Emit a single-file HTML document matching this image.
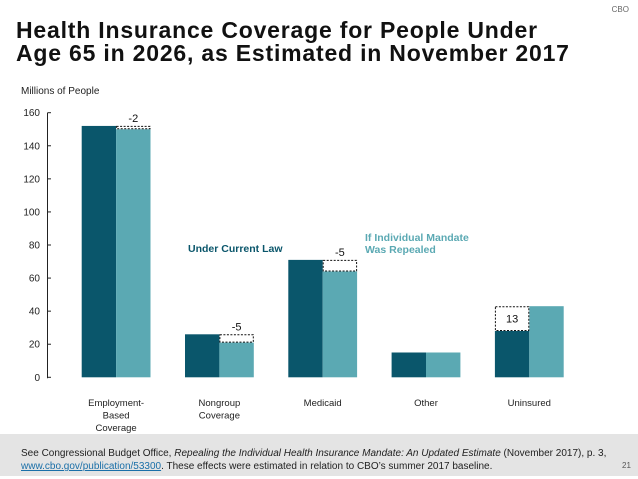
<!DOCTYPE html>
<html><head><meta charset="utf-8"><style>
body{margin:0;width:638px;height:479px;background:#fff;font-family:"Liberation Sans",sans-serif;position:relative;overflow:hidden}
.t{position:absolute;white-space:nowrap}
</style></head><body>
<div class="t" style="right:9px;top:5px;font-size:8px;color:#666">CBO</div>
<div class="t" style="left:16px;top:19px;font-size:23px;font-weight:bold;line-height:23px;color:#111;letter-spacing:0.8px">Health Insurance Coverage for People Under<br>Age 65 in 2026, as Estimated in November 2017</div>
<div class="t" style="left:21px;top:86px;font-size:10px;color:#222">Millions of People</div>
<svg id="chart" width="638" height="479" style="position:absolute;left:0;top:0"></svg>
<div style="position:absolute;left:0;top:434px;width:638px;height:42px;background:#e4e4e4"></div>
<div class="t" style="left:21px;top:447px;font-size:10px;line-height:13px;color:#222">See Congressional Budget Office, <i>Repealing the Individual Health Insurance Mandate: An Updated Estimate</i> (November 2017), p. 3,<br><span style="color:#1a6fa8;text-decoration:underline">www.cbo.gov/publication/53300</span>. These effects were estimated in relation to CBO’s summer 2017 baseline.</div>
<div class="t" style="left:622px;top:461px;font-size:8px;color:#555">21</div>
<script>
const categories=[["Employment-","Based","Coverage"],["Nongroup","Coverage"],["Medicaid"],["Other"],["Uninsured"]];
const currentLaw=[152,26,71,15,28];
const repealed=[150,21,64,15,43];
const changeLabels=["-2","-5","-5","","13"];
const yTicks=[0,20,40,60,80,100,120,140,160];
const svg=document.getElementById('chart');
const NS='http://www.w3.org/2000/svg';
const y0=377.3,yTop=112.7,yMax=160;
const y=v=>y0-(v/yMax)*(y0-yTop);
const gx=i=>81.7+i*103.3;
const bw=34.4;
function mk(t,a){const e=document.createElementNS(NS,t);for(const k in a)e.setAttribute(k,a[k]);svg.appendChild(e);return e;}
let ax=mk('line',{x1:47.5,y1:y(160),x2:47.5,y2:y0+1,stroke:'#222','stroke-width':1});


yTicks.forEach(v=>{
  let l=mk('line',{x1:47.5,y1:y(v),x2:51,y2:y(v),stroke:'#222'});
  
  
  let t=mk('text',{x:40,y:y(v)+3.5,'text-anchor':'end','font-size':10,fill:'#222'});
  t.textContent=v;
  
  
});
categories.forEach((c,i)=>{
  const x=gx(i);
  let a=mk('rect',{x:x,y:y(currentLaw[i]),width:bw,height:y0-y(currentLaw[i]),fill:'#0a566b'});
  
  
  let b=mk('rect',{x:x+bw,y:y(repealed[i]),width:bw,height:y0-y(repealed[i]),fill:'#5ba9b3'});
  
  
  const d=repealed[i]-currentLaw[i];
  if(d!==0){
    let bx,top,bot;
    if(d<0){bx=x+bw;top=y(currentLaw[i]);bot=y(repealed[i]);}
    else{bx=x;top=y(repealed[i]);bot=y(currentLaw[i]);}
    let r=mk('rect',{x:bx+0.5,y:top+0.5,width:bw-1,height:Math.max(bot-top-1,1),fill:'#fff',stroke:'#111','stroke-width':1,'stroke-dasharray':'2,1.5'});
    
    
    let t=mk('text',{x:bx+bw/2,y:d<0?top-4:(top+bot)/2+4,'text-anchor':'middle','font-size':11,fill:'#111'});
    t.textContent=changeLabels[i];
    
    
  }
  c.forEach((ln,j)=>{
    let t=mk('text',{x:x+bw,y:406+j*12.5,'text-anchor':'middle','font-size':9.5,fill:'#222'});
    t.textContent=ln;
    
    
  });
});
let l1=mk('text',{x:188,y:252,'font-size':10.5,'font-weight':'bold',fill:'#0a566b'});
l1.textContent='Under Current Law';


['If Individual Mandate','Was Repealed'].forEach((s,j)=>{
  let t=mk('text',{x:365,y:241+j*12,'font-size':10.5,'font-weight':'bold',fill:'#5ba9b3'});
  t.textContent=s;
  
  
});
</script>
</body></html>
